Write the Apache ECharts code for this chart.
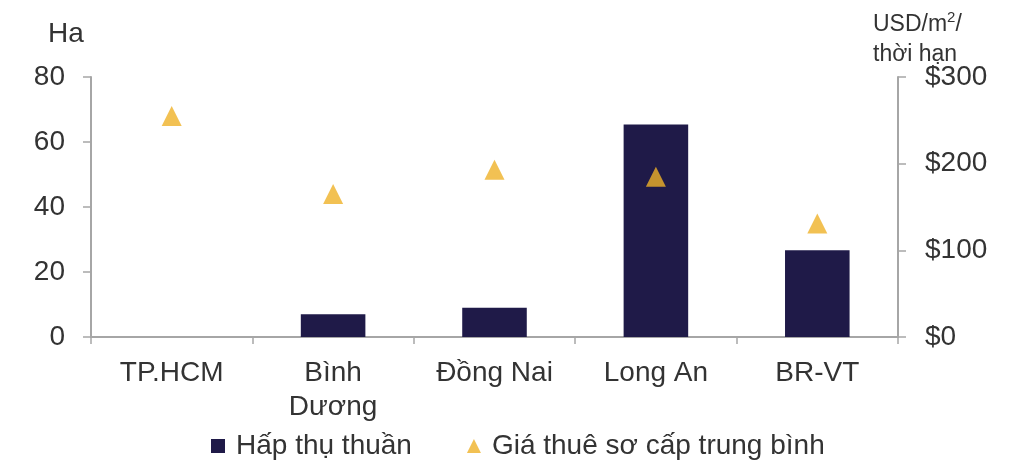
<!DOCTYPE html>
<html>
<head>
<meta charset="utf-8">
<script src="https://cdn.jsdelivr.net/npm/echarts@6/dist/echarts.min.js"></script>
<style>
  html, body { margin: 0; padding: 0; background: #ffffff; }
  #chart { width: 1023px; height: 462px; }
</style>
</head>
<body>
<div id="chart"></div>
<script>
// Provinces / cities
const categories = ['TP.HCM', 'Bình\nDương', 'Đồng Nai', 'Long An', 'BR-VT'];
// Net absorption, hectares (left axis)
const netAbsorption = [0, 7, 9, 65.4, 26.7];
// Average primary rent, USD/m²/term (right axis)
const avgRent = [255, 165, 193, 185, 131];
// Axis tick values
const leftTicks = [0, 20, 40, 60, 80];
const rightTicks = [0, 100, 200, 300];

const FONT = '"Liberation Sans", Arial, sans-serif';
const TEXT = '#333333';
const AXIS = '#a6a6a6';

const chart = echarts.init(document.getElementById('chart'), null, { renderer: 'canvas' });

chart.setOption({
  animation: false,
  backgroundColor: '#ffffff',
  textStyle: { fontFamily: FONT },
  grid: { left: 91, right: 125, top: 77, bottom: 125, containLabel: false },
  legend: {
    left: 206,
    top: 427,
    itemWidth: 14,
    itemHeight: 14,
    itemGap: 55,
    textStyle: { fontSize: 28, color: TEXT, fontFamily: FONT, padding: [0, 0, 0, 6] },
    data: [
      { name: 'Hấp thụ thuần', icon: 'rect' },
      { name: 'Giá thuê sơ cấp trung bình', icon: 'triangle' }
    ]
  },
  graphic: [
    {
      type: 'text', left: 48, top: 20,
      style: { text: 'Ha', fontSize: 28, fill: TEXT, fontFamily: FONT }
    },
    {
      type: 'text', left: 873, top: 10,
      style: {
        text: 'USD/m{sup|2}/\nthời hạn',
        fontSize: 23, lineHeight: 30, fill: TEXT, fontFamily: FONT,
        rich: { sup: { fontSize: 15, verticalAlign: 'top', padding: [0, 0, 10, 0], fill: TEXT, fontFamily: FONT } }
      }
    }
  ],
  xAxis: {
    type: 'category',
    data: categories,
    axisLine: { lineStyle: { color: AXIS, width: 2 } },
    axisTick: { show: true, alignWithLabel: false, length: 7, lineStyle: { color: AXIS, width: 1.5 } },
    axisLabel: { fontSize: 28, color: TEXT, fontFamily: FONT, margin: 19, lineHeight: 34, interval: 0 },
    splitLine: { show: false }
  },
  yAxis: [
    {
      type: 'value',
      min: leftTicks[0],
      max: leftTicks[leftTicks.length - 1],
      interval: 20,
      position: 'left',
      axisLine: { show: true, lineStyle: { color: AXIS, width: 2 } },
      axisTick: { show: true, inside: false, length: 8, lineStyle: { color: AXIS, width: 1.5 } },
      axisLabel: { fontSize: 28, color: TEXT, fontFamily: FONT, margin: 26 },
      splitLine: { show: false }
    },
    {
      type: 'value',
      min: rightTicks[0],
      max: rightTicks[rightTicks.length - 1],
      interval: 100,
      position: 'right',
      axisLine: { show: true, lineStyle: { color: AXIS, width: 2 } },
      axisTick: { show: true, inside: false, length: 8, lineStyle: { color: AXIS, width: 1.5 } },
      axisLabel: { fontSize: 28, color: TEXT, fontFamily: FONT, margin: 27, formatter: v => '$' + v },
      splitLine: { show: false }
    }
  ],
  series: [
    {
      name: 'Hấp thụ thuần',
      type: 'bar',
      yAxisIndex: 0,
      data: netAbsorption,
      barWidth: '40%',
      itemStyle: { color: '#1f1a48' },
      z: 2
    },
    {
      name: 'Giá thuê sơ cấp trung bình',
      type: 'scatter',
      yAxisIndex: 1,
      data: avgRent,
      symbol: 'triangle',
      symbolSize: [20, 20],
      itemStyle: { color: '#efb128' },
      z: 3
    }
  ]
});
</script>
</body>
</html>
